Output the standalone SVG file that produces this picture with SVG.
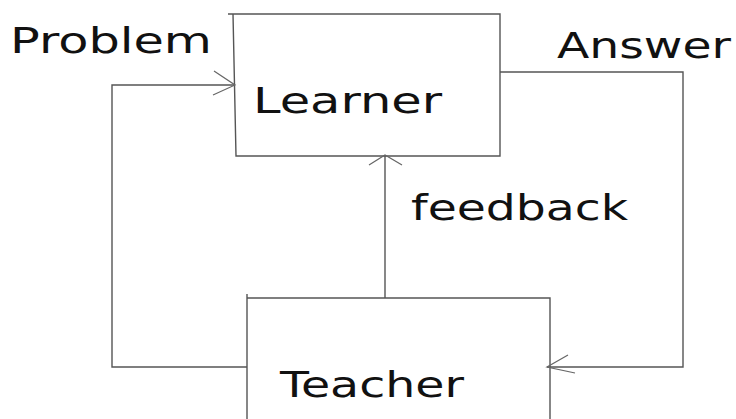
<svg xmlns="http://www.w3.org/2000/svg" width="736" height="419" viewBox="0 0 736 419">
<style>
.box{fill:none;stroke:#555;stroke-width:1.4}
.con{fill:none;stroke:#555;stroke-width:1.4}
.head{fill:none;stroke:#666;stroke-width:1.2}
text{font-family:"DejaVu Sans","Liberation Sans",sans-serif;font-size:36px;fill:#111}
</style>
<rect width="736" height="419" fill="#fff"/>
<g id="learner">
<path class="box" d="M228,14 H500 V156 H236 L233,14"/>
<text x="253" y="113" textLength="189" lengthAdjust="spacingAndGlyphs">Learner</text>
</g>
<g id="teacher">
<path class="box" d="M247,294 V419 M247,298 H550 V419"/>
<text x="280" y="397" textLength="184" lengthAdjust="spacingAndGlyphs">Teacher</text>
</g>
<g id="connectors">
<path class="con" d="M247,367 H112 V85 H235"/>
<path class="head" d="M214,71 L235,85 L213,95"/>
<text x="10" y="53" textLength="202" lengthAdjust="spacingAndGlyphs">Problem</text>
<path class="con" d="M500,72 H683 V367 H547"/>
<path class="head" d="M568,355 L547,367 L575,373"/>
<text x="557" y="58" textLength="174" lengthAdjust="spacingAndGlyphs">Answer</text>
<path class="con" d="M385,298 V155"/>
<path class="head" d="M369,165 L385,155 L402,165"/>
<text x="411" y="220" textLength="217" lengthAdjust="spacingAndGlyphs">feedback</text>
</g>
</svg>
